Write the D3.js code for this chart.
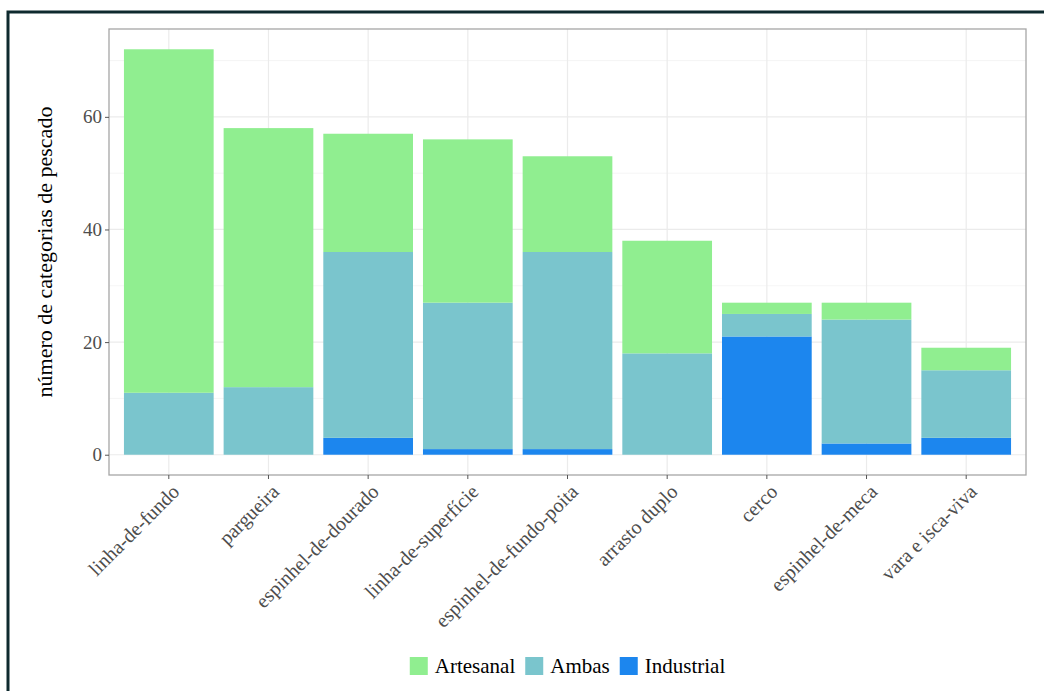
<!DOCTYPE html>
<html><head><meta charset="utf-8">
<script src="https://cdn.jsdelivr.net/npm/d3@7"></script>
<style>body{margin:0;background:#fff;} svg{display:block;font-family:'Liberation Serif','DejaVu Serif',serif;} svg text{font-family:'Liberation Serif','DejaVu Serif',serif;}</style>
</head><body>
<script>
const categories = ["linha-de-fundo","pargueira","espinhel-de-dourado","linha-de-superfície","espinhel-de-fundo-poita","arrasto duplo","cerco","espinhel-de-meca","vara e isca-viva"];
const industrial = [0, 0, 3, 1, 1, 0, 21, 2, 3];
const ambas      = [11, 12, 33, 26, 35, 18, 4, 22, 12];
const artesanal  = [61, 46, 21, 29, 17, 20, 2, 3, 4];
const seriesNames = ["Industrial","Ambas","Artesanal"];
const legendOrder = ["Artesanal","Ambas","Industrial"];
const colors = {Artesanal:"#90EE90", Ambas:"#7AC5CD", Industrial:"#1C86EE"};
const yTicks = [0,20,40,60];
const yMinor = [10,30,50,70];

const W=1044,H=691;
const svg=d3.select("body").append("svg").attr("width",W).attr("height",H);

// outer frame
svg.append("rect").attr("x",8).attr("y",12).attr("width",W+20).attr("height",H+20)
  .attr("fill","none").attr("stroke","#0e2a2e").attr("stroke-width",3);

const P={l:109,t:29,r:1026,b:475};
const data=categories.map((c,i)=>({cat:c,Industrial:industrial[i],Ambas:ambas[i],Artesanal:artesanal[i]}));
const totals=data.map(d=>d.Industrial+d.Ambas+d.Artesanal);
const maxT=d3.max(totals);
const y=d3.scaleLinear().domain([-maxT*0.05,maxT*1.05]).range([P.b,P.t]);
const x=d3.scaleBand().domain(categories).range([P.l,P.r]).paddingInner(0.1).paddingOuter(0.15);

const g=svg.append("g");
// grid
g.selectAll(".ymin").data(yMinor).join("line").attr("x1",P.l).attr("x2",P.r)
  .attr("y1",d=>y(d)).attr("y2",d=>y(d)).attr("stroke","#f3f3f3").attr("stroke-width",0.8);
g.selectAll(".ymaj").data(yTicks).join("line").attr("x1",P.l).attr("x2",P.r)
  .attr("y1",d=>y(d)).attr("y2",d=>y(d)).attr("stroke","#ebebeb").attr("stroke-width",1.2);
g.selectAll(".xmaj").data(categories).join("line").attr("y1",P.t).attr("y2",P.b)
  .attr("x1",d=>x(d)+x.bandwidth()/2).attr("x2",d=>x(d)+x.bandwidth()/2).attr("stroke","#ebebeb").attr("stroke-width",1.2);

// bars
const stack=d3.stack().keys(seriesNames)(data);
g.selectAll(".layer").data(stack).join("g").attr("fill",d=>colors[d.key])
  .selectAll("rect").data(d=>d).join("rect")
  .attr("x",d=>x(d.data.cat)).attr("width",x.bandwidth())
  .attr("y",d=>y(d[1])).attr("height",d=>Math.max(0,y(d[0])-y(d[1])));

// panel border
svg.append("rect").attr("x",P.l).attr("y",P.t).attr("width",P.r-P.l).attr("height",P.b-P.t)
  .attr("fill","none").attr("stroke","#a6a6a6").attr("stroke-width",1.3);

// y axis
const ya=svg.append("g").attr("transform",`translate(${P.l},0)`)
  .call(d3.axisLeft(y).tickValues(yTicks).tickSize(4).tickPadding(3));
ya.attr("font-family",null).attr("font-size",null);
ya.select(".domain").remove();
ya.selectAll("line").attr("stroke","#555");
ya.selectAll("text").attr("font-size",19).attr("fill","#4d4d4d");

// x axis
const xa=svg.append("g").attr("transform",`translate(0,${P.b})`)
  .call(d3.axisBottom(x).tickSize(4).tickFormat(""));
xa.select(".domain").remove();
xa.selectAll("line").attr("stroke","#555");
svg.append("g").selectAll("text").data(categories).join("text")
  .attr("transform",d=>`translate(${x(d)+x.bandwidth()/2+2},${P.b+8}) rotate(-45)`)
  .attr("text-anchor","end").attr("dy","0.7em")
  .attr("font-size",20).attr("fill","#4d4d4d").text(d=>d);

// y title
svg.append("text").attr("transform",`translate(52,${(P.t+P.b)/2}) rotate(-90)`)
  .attr("text-anchor","middle").attr("font-size",22).attr("fill","#000")
  .text("número de categorias de pescado");

// legend
const lg=svg.append("g");
const key=18, gap1=7, gap2=10;
const items=legendOrder.map(n=>{
  const t=lg.append("text").attr("font-size",21).attr("fill","#000").text(n);
  return {n,t,w:t.node().getComputedTextLength()};
});
const total=d3.sum(items,d=>key+gap1+d.w)+gap2*(items.length-1);
let cx=(P.l+P.r)/2-total/2;
const ly=657;
items.forEach(it=>{
  lg.append("rect").attr("x",cx).attr("y",ly).attr("width",key).attr("height",key).attr("fill",colors[it.n]);
  it.t.attr("x",cx+key+gap1).attr("y",ly+key/2).attr("dy","0.35em");
  cx+=key+gap1+it.w+gap2;
});
</script>
</body></html>
